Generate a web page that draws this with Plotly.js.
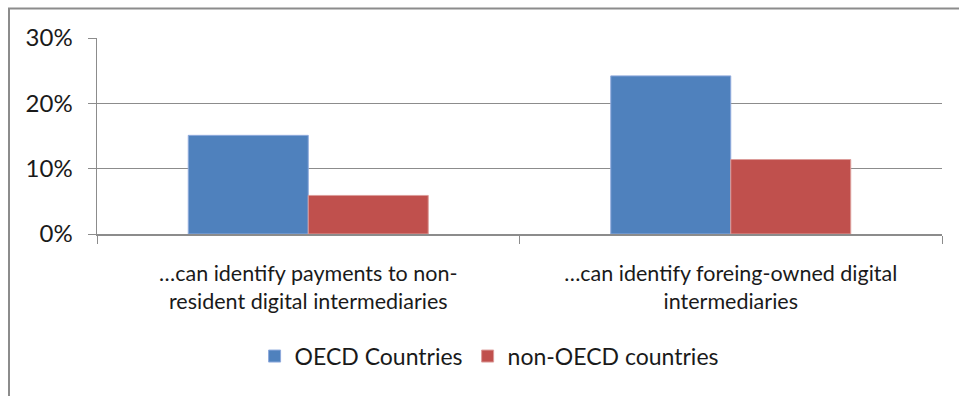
<!DOCTYPE html>
<html>
<head>
<meta charset="utf-8">
<script src="https://cdn.plot.ly/plotly-3.0.1.min.js"></script>
<style>html,body{margin:0;padding:0;background:#fff;}#chart{width:959px;height:396px;}</style>
</head>
<body>
<div id="chart"></div>
<script>
const categories = [
  "…can identify payments to non-<br>resident digital intermediaries",
  "…can identify foreing-owned digital<br>intermediaries"
];
const seriesNames = ["OECD Countries", "non-OECD countries"];
const oecdValues = [0.151, 0.242];
const nonOecdValues = [0.059, 0.114];
const yTickVals = [0, 0.1, 0.2, 0.3];
const yTickText = ["0%", "10%", "20%", "30%"];

const fontFam = "Lato, 'Open Sans', sans-serif";
const txt = "#1a1a1a";
const traces = [
  {type: "bar", name: seriesNames[0], x: categories, y: oecdValues,
   marker: {color: "#4F81BD", line: {color: "#8FAADC", width: 1}}},
  {type: "bar", name: seriesNames[1], x: categories, y: nonOecdValues,
   marker: {color: "#C0504D", line: {color: "#DC9C9A", width: 1}}}
];
const layout = {
  width: 959, height: 396,
  margin: {l: 97, r: 17, t: 38, b: 161.5, pad: 0},
  paper_bgcolor: "#fff", plot_bgcolor: "#fff",
  font: {family: fontFam, size: 20, color: txt},
  barmode: "group", bargap: 0.432, bargroupgap: 0,
  showlegend: true,
  legend: {orientation: "h", x: 0.464, xanchor: "center", y: -0.623, yanchor: "middle",
           font: {size: 23, family: fontFam, color: txt}, itemwidth: 30, traceorder: "normal"},
  xaxis: {type: "category", showline: true, linecolor: "#8c8c8c", linewidth: 1.5,
          ticks: "outside", tickson: "boundaries", ticklen: 8, tickcolor: "#8c8c8c",
          ticklabelstandoff: 20,
          showgrid: false, tickfont: {size: 21.5, family: fontFam, color: txt}, tickangle: 0},
  yaxis: {range: [0, 0.3], tickvals: yTickVals, ticktext: yTickText,
          showline: true, linecolor: "#8c8c8c", linewidth: 1.5,
          ticks: "outside", ticklen: 8, tickcolor: "#8c8c8c",
          showgrid: true, gridcolor: "#8c8c8c", gridwidth: 1.5, zeroline: false,
          ticklabelstandoff: 10, tickfont: {size: 24, family: fontFam, color: txt}},
  shapes: [{type: "rect", xref: "paper", yref: "paper",
            x0: (9 - 97) / 845, x1: 1.2, y0: -1.0, y1: 1 + (38 - 8.5) / 196.5,
            line: {color: "#8c8c8c", width: 2}, fillcolor: "rgba(0,0,0,0)", layer: "below"}]
};
Plotly.newPlot("chart", traces, layout, {displayModeBar: false, staticPlot: true});
</script>
</body>
</html>
